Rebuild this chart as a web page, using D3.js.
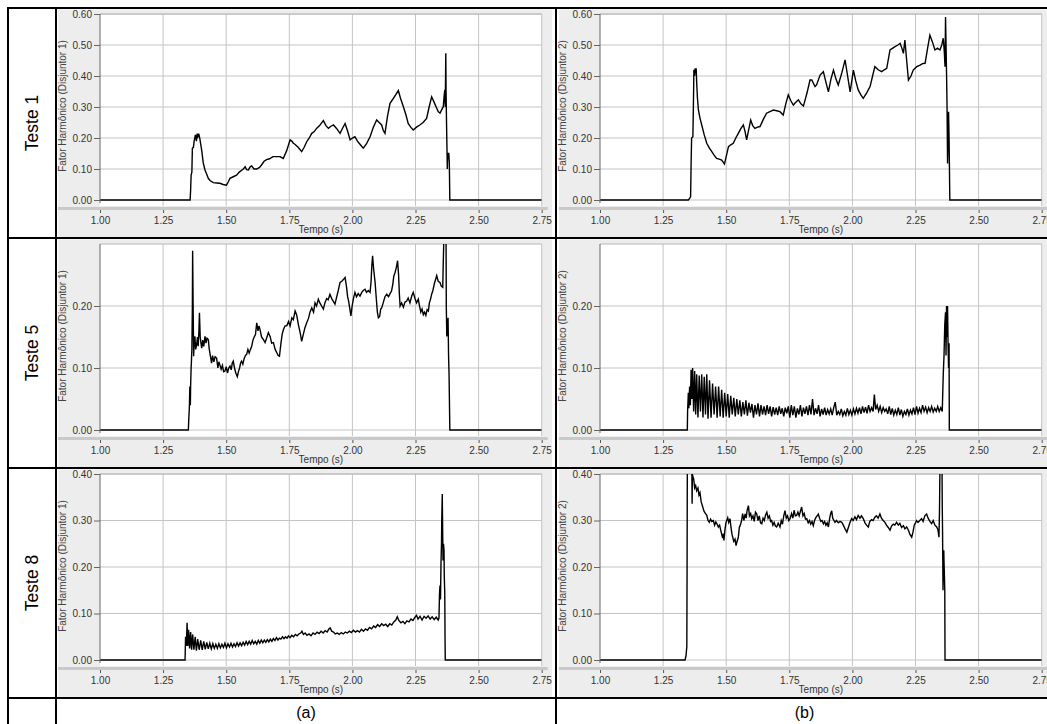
<!DOCTYPE html>
<html lang="pt">

<head>
    <meta charset="UTF-8">
    <title>Fator Harmônico</title>
    <script src="https://d3js.org/d3.v7.min.js"></script>
    <style>
        body { margin: 0; background: #fff; }
        svg { display: block; font-family: "Liberation Sans", Arial, sans-serif; }
    </style>
</head>

<body>
    <svg id="chart" width="1047" height="724"></svg>

    <script>
        // tick labels and categories
        const timeTicks = [1.00, 1.25, 1.50, 1.75, 2.00, 2.25, 2.50, 2.75];
        const rowLabels = ["Teste 1", "Teste 5", "Teste 8"];
        const colLabels = ["(a)", "(b)"];
        const yTitles = ["Fator Harmônico (Disjuntor 1)", "Fator Harmônico (Disjuntor 2)"];
        const yMaxByRow = [0.60, 0.30, 0.40];
        const yTicksRow1 = [0, 0.1, 0.2, 0.3, 0.4, 0.5, 0.6];
        const yTicksRow2 = [0, 0.1, 0.2];
        const yTicksRow3 = [0, 0.1, 0.2, 0.3, 0.4];

        // series, [tempo (s), fator harmonico]
        const teste1Disj1 = [[1.00,0],[1.357,0],[1.359,0.03],[1.361,0.08],[1.364,0.09],[1.366,0.167],[1.370,0.17],[1.373,0.19],[1.378,0.21],[1.382,0.19],[1.385,0.214],[1.388,0.205],[1.391,0.214],[1.395,0.20],[1.399,0.18],[1.403,0.16],[1.409,0.12],[1.416,0.097],[1.422,0.085],[1.429,0.07],[1.437,0.062],[1.449,0.056],[1.462,0.055],[1.475,0.054],[1.488,0.05],[1.501,0.048],[1.508,0.058],[1.515,0.07],[1.528,0.075],[1.541,0.08],[1.552,0.09],[1.560,0.095],[1.568,0.10],[1.575,0.107],[1.581,0.098],[1.588,0.097],[1.595,0.107],[1.601,0.11],[1.610,0.10],[1.621,0.10],[1.632,0.105],[1.640,0.113],[1.650,0.125],[1.660,0.13],[1.672,0.133],[1.685,0.14],[1.700,0.14],[1.713,0.14],[1.726,0.134],[1.740,0.16],[1.753,0.194],[1.760,0.19],[1.766,0.183],[1.772,0.18],[1.785,0.17],[1.799,0.156],[1.809,0.17],[1.819,0.188],[1.829,0.20],[1.839,0.215],[1.848,0.22],[1.858,0.231],[1.870,0.24],[1.885,0.256],[1.895,0.24],[1.905,0.231],[1.915,0.238],[1.925,0.242],[1.938,0.23],[1.951,0.215],[1.960,0.23],[1.971,0.247],[1.980,0.225],[1.991,0.194],[2.000,0.20],[2.010,0.204],[2.020,0.19],[2.030,0.18],[2.043,0.167],[2.055,0.18],[2.070,0.204],[2.083,0.235],[2.096,0.258],[2.106,0.25],[2.116,0.242],[2.122,0.225],[2.129,0.215],[2.139,0.27],[2.149,0.312],[2.160,0.325],[2.172,0.34],[2.182,0.353],[2.190,0.33],[2.202,0.301],[2.212,0.275],[2.221,0.247],[2.231,0.235],[2.241,0.226],[2.254,0.235],[2.267,0.242],[2.280,0.25],[2.294,0.263],[2.304,0.30],[2.314,0.333],[2.324,0.315],[2.334,0.296],[2.340,0.285],[2.347,0.28],[2.353,0.29],[2.360,0.301],[2.364,0.34],[2.366,0.355],[2.368,0.30],[2.370,0.473],[2.371,0.36],[2.373,0.247],[2.374,0.20],[2.376,0.10],[2.378,0.15],[2.382,0.15],[2.384,0.12],[2.386,0],[2.75,0]];

        const teste1Disj2 = [[1.00,0],[1.350,0],[1.355,0.005],[1.359,0.01],[1.361,0.12],[1.363,0.20],[1.368,0.204],[1.370,0.30],[1.372,0.42],[1.375,0.40],[1.377,0.425],[1.379,0.41],[1.381,0.425],[1.383,0.38],[1.386,0.33],[1.390,0.29],[1.396,0.265],[1.403,0.242],[1.413,0.21],[1.423,0.183],[1.433,0.168],[1.443,0.156],[1.452,0.145],[1.462,0.134],[1.472,0.132],[1.482,0.129],[1.488,0.122],[1.493,0.116],[1.500,0.14],[1.509,0.172],[1.518,0.178],[1.528,0.183],[1.538,0.20],[1.548,0.215],[1.558,0.23],[1.568,0.242],[1.575,0.22],[1.581,0.194],[1.590,0.23],[1.597,0.258],[1.605,0.24],[1.614,0.231],[1.624,0.235],[1.634,0.237],[1.647,0.26],[1.660,0.28],[1.673,0.285],[1.687,0.29],[1.700,0.288],[1.713,0.285],[1.726,0.274],[1.736,0.31],[1.746,0.339],[1.756,0.32],[1.766,0.306],[1.772,0.312],[1.786,0.323],[1.796,0.31],[1.806,0.303],[1.820,0.345],[1.832,0.387],[1.839,0.387],[1.852,0.366],[1.858,0.371],[1.872,0.403],[1.885,0.414],[1.895,0.38],[1.905,0.349],[1.915,0.39],[1.925,0.419],[1.935,0.39],[1.944,0.371],[1.958,0.41],[1.971,0.452],[1.981,0.40],[1.991,0.349],[2.004,0.419],[2.013,0.385],[2.023,0.355],[2.033,0.34],[2.043,0.328],[2.056,0.345],[2.070,0.366],[2.080,0.40],[2.089,0.43],[2.102,0.42],[2.116,0.414],[2.126,0.42],[2.136,0.425],[2.149,0.484],[2.160,0.49],[2.169,0.495],[2.180,0.50],[2.189,0.505],[2.196,0.49],[2.202,0.473],[2.208,0.516],[2.215,0.45],[2.222,0.387],[2.232,0.40],[2.241,0.419],[2.255,0.43],[2.268,0.435],[2.278,0.44],[2.288,0.441],[2.298,0.49],[2.307,0.532],[2.317,0.51],[2.327,0.484],[2.337,0.49],[2.347,0.484],[2.354,0.50],[2.360,0.522],[2.364,0.48],[2.367,0.43],[2.369,0.59],[2.371,0.50],[2.373,0.409],[2.375,0.30],[2.377,0.118],[2.379,0.20],[2.381,0.285],[2.383,0.20],[2.386,0],[2.75,0]];

        const teste5Disj1 = [[1.00,0],[1.350,0],[1.352,0.02],[1.354,0.035],[1.356,0.07],[1.358,0.04],[1.359,0.07],[1.361,0.10],[1.362,0.108],[1.364,0.13],[1.366,0.20],[1.367,0.289],[1.369,0.20],[1.371,0.119],[1.373,0.14],[1.376,0.151],[1.379,0.13],[1.383,0.138],[1.386,0.15],[1.389,0.135],[1.392,0.16],[1.394,0.189],[1.397,0.15],[1.400,0.14],[1.403,0.132],[1.407,0.145],[1.411,0.135],[1.416,0.151],[1.420,0.14],[1.424,0.148],[1.429,0.146],[1.433,0.13],[1.438,0.118],[1.442,0.108],[1.446,0.12],[1.451,0.11],[1.456,0.118],[1.462,0.116],[1.467,0.10],[1.471,0.11],[1.475,0.105],[1.480,0.098],[1.485,0.104],[1.490,0.094],[1.495,0.095],[1.500,0.102],[1.505,0.092],[1.510,0.10],[1.515,0.103],[1.520,0.097],[1.524,0.108],[1.528,0.111],[1.533,0.10],[1.538,0.092],[1.544,0.086],[1.549,0.095],[1.553,0.10],[1.557,0.108],[1.561,0.111],[1.566,0.106],[1.571,0.115],[1.576,0.12],[1.581,0.122],[1.586,0.13],[1.591,0.124],[1.596,0.13],[1.601,0.135],[1.606,0.145],[1.611,0.15],[1.616,0.154],[1.621,0.173],[1.626,0.16],[1.630,0.168],[1.634,0.162],[1.640,0.15],[1.647,0.146],[1.654,0.141],[1.660,0.148],[1.667,0.157],[1.674,0.151],[1.680,0.14],[1.687,0.141],[1.694,0.13],[1.700,0.125],[1.706,0.12],[1.711,0.119],[1.717,0.14],[1.722,0.155],[1.727,0.162],[1.733,0.168],[1.740,0.168],[1.747,0.175],[1.753,0.168],[1.760,0.181],[1.766,0.178],[1.773,0.192],[1.779,0.186],[1.786,0.17],[1.793,0.157],[1.799,0.143],[1.806,0.155],[1.812,0.165],[1.819,0.173],[1.826,0.18],[1.832,0.19],[1.839,0.197],[1.846,0.19],[1.852,0.205],[1.858,0.20],[1.865,0.211],[1.871,0.205],[1.878,0.2],[1.885,0.195],[1.891,0.205],[1.898,0.212],[1.904,0.21],[1.911,0.219],[1.918,0.212],[1.924,0.208],[1.931,0.203],[1.938,0.215],[1.944,0.225],[1.951,0.238],[1.958,0.24],[1.965,0.243],[1.971,0.246],[1.977,0.23],[1.981,0.215],[1.985,0.208],[1.990,0.195],[1.994,0.184],[1.999,0.2],[2.004,0.212],[2.010,0.222],[2.016,0.215],[2.023,0.22],[2.030,0.216],[2.037,0.222],[2.043,0.225],[2.050,0.227],[2.056,0.222],[2.063,0.225],[2.070,0.222],[2.074,0.24],[2.077,0.265],[2.080,0.281],[2.084,0.26],[2.090,0.238],[2.095,0.21],[2.099,0.19],[2.103,0.181],[2.108,0.183],[2.112,0.195],[2.116,0.197],[2.122,0.205],[2.129,0.215],[2.136,0.219],[2.143,0.215],[2.149,0.22],[2.155,0.224],[2.160,0.235],[2.164,0.248],[2.169,0.254],[2.174,0.262],[2.179,0.273],[2.183,0.25],[2.186,0.22],[2.189,0.20],[2.195,0.205],[2.202,0.198],[2.208,0.206],[2.215,0.208],[2.221,0.213],[2.228,0.205],[2.235,0.216],[2.241,0.222],[2.248,0.212],[2.254,0.205],[2.261,0.211],[2.266,0.2],[2.271,0.19],[2.276,0.195],[2.281,0.186],[2.286,0.19],[2.291,0.185],[2.296,0.194],[2.301,0.192],[2.305,0.205],[2.309,0.21],[2.314,0.219],[2.319,0.225],[2.324,0.235],[2.329,0.242],[2.334,0.249],[2.340,0.24],[2.347,0.238],[2.352,0.232],[2.358,0.23],[2.360,0.27],[2.363,0.32],[2.366,0.32],[2.369,0.3],[2.371,0.32],[2.372,0.2],[2.374,0.151],[2.376,0.17],[2.379,0.181],[2.381,0.12],[2.383,0.089],[2.386,0],[2.75,0]];

        const teste5Disj2 = [[1.00,0],[1.346,0],[1.347,0.03],[1.350,0.06],[1.352,0.035],[1.355,0.07],[1.358,0.04],[1.361,0.097],[1.364,0.05],[1.367,0.10],[1.371,0.03],[1.375,0.095],[1.379,0.025],[1.383,0.09],[1.388,0.02],[1.393,0.088],[1.398,0.03],[1.403,0.09],[1.408,0.02],[1.413,0.086],[1.418,0.025],[1.423,0.09],[1.428,0.018],[1.434,0.08],[1.440,0.02],[1.446,0.075],[1.452,0.025],[1.458,0.07],[1.464,0.02],[1.470,0.07],[1.476,0.022],[1.482,0.065],[1.488,0.02],[1.494,0.06],[1.500,0.022],[1.506,0.058],[1.512,0.02],[1.518,0.055],[1.524,0.025],[1.530,0.052],[1.536,0.022],[1.542,0.05],[1.548,0.025],[1.554,0.048],[1.560,0.022],[1.566,0.045],[1.572,0.025],[1.578,0.048],[1.584,0.023],[1.590,0.044],[1.596,0.028],[1.602,0.042],[1.608,0.02],[1.614,0.04],[1.620,0.025],[1.626,0.043],[1.632,0.022],[1.638,0.04],[1.644,0.025],[1.650,0.038],[1.656,0.024],[1.662,0.04],[1.668,0.026],[1.674,0.038],[1.680,0.022],[1.686,0.037],[1.692,0.025],[1.698,0.036],[1.704,0.024],[1.710,0.038],[1.716,0.026],[1.722,0.035],[1.728,0.022],[1.734,0.036],[1.740,0.027],[1.746,0.038],[1.752,0.02],[1.758,0.04],[1.764,0.024],[1.770,0.038],[1.776,0.02],[1.782,0.035],[1.788,0.025],[1.794,0.04],[1.800,0.022],[1.806,0.036],[1.812,0.026],[1.818,0.038],[1.824,0.024],[1.830,0.04],[1.836,0.025],[1.842,0.05],[1.848,0.024],[1.854,0.035],[1.860,0.026],[1.866,0.04],[1.872,0.022],[1.878,0.034],[1.884,0.025],[1.890,0.036],[1.896,0.024],[1.902,0.033],[1.908,0.026],[1.914,0.034],[1.920,0.024],[1.926,0.036],[1.932,0.045],[1.938,0.024],[1.944,0.03],[1.950,0.025],[1.956,0.034],[1.962,0.023],[1.968,0.03],[1.974,0.024],[1.980,0.035],[1.986,0.025],[1.992,0.032],[1.998,0.024],[2.004,0.034],[2.010,0.026],[2.016,0.035],[2.022,0.027],[2.028,0.036],[2.034,0.026],[2.040,0.038],[2.046,0.028],[2.052,0.037],[2.058,0.027],[2.064,0.04],[2.070,0.03],[2.076,0.036],[2.082,0.03],[2.087,0.057],[2.092,0.033],[2.098,0.04],[2.104,0.03],[2.110,0.038],[2.116,0.028],[2.122,0.036],[2.128,0.03],[2.134,0.034],[2.140,0.026],[2.146,0.038],[2.152,0.025],[2.158,0.035],[2.164,0.024],[2.170,0.032],[2.176,0.025],[2.182,0.036],[2.188,0.024],[2.194,0.033],[2.200,0.022],[2.206,0.03],[2.212,0.025],[2.218,0.034],[2.224,0.024],[2.230,0.032],[2.236,0.026],[2.242,0.036],[2.248,0.025],[2.254,0.038],[2.260,0.027],[2.266,0.035],[2.272,0.028],[2.278,0.04],[2.284,0.03],[2.290,0.037],[2.296,0.028],[2.302,0.036],[2.308,0.03],[2.314,0.038],[2.320,0.029],[2.326,0.035],[2.332,0.03],[2.338,0.038],[2.344,0.03],[2.350,0.036],[2.356,0.03],[2.358,0.06],[2.360,0.09],[2.363,0.12],[2.366,0.17],[2.369,0.19],[2.371,0.12],[2.373,0.20],[2.375,0.15],[2.377,0.20],[2.379,0.14],[2.381,0.10],[2.383,0.14],[2.384,0],[2.75,0]];

        const teste8Disj1 = [[1.00,0],[1.337,0],[1.339,0.05],[1.342,0.03],[1.345,0.08],[1.348,0.03],[1.351,0.065],[1.355,0.025],[1.359,0.06],[1.363,0.022],[1.367,0.055],[1.372,0.022],[1.377,0.05],[1.382,0.02],[1.387,0.045],[1.393,0.022],[1.399,0.042],[1.405,0.022],[1.411,0.04],[1.417,0.023],[1.423,0.038],[1.429,0.024],[1.435,0.036],[1.441,0.024],[1.447,0.035],[1.453,0.025],[1.459,0.034],[1.465,0.025],[1.471,0.035],[1.477,0.026],[1.483,0.034],[1.489,0.027],[1.495,0.036],[1.501,0.026],[1.507,0.035],[1.513,0.028],[1.519,0.036],[1.525,0.028],[1.531,0.035],[1.537,0.029],[1.543,0.037],[1.549,0.03],[1.555,0.037],[1.561,0.031],[1.567,0.038],[1.573,0.032],[1.579,0.04],[1.585,0.033],[1.591,0.04],[1.597,0.034],[1.603,0.042],[1.609,0.035],[1.615,0.04],[1.621,0.034],[1.627,0.042],[1.633,0.036],[1.639,0.043],[1.645,0.037],[1.651,0.043],[1.657,0.038],[1.663,0.044],[1.669,0.039],[1.675,0.045],[1.681,0.04],[1.687,0.046],[1.693,0.042],[1.699,0.048],[1.705,0.043],[1.711,0.047],[1.717,0.045],[1.723,0.05],[1.729,0.046],[1.735,0.05],[1.741,0.047],[1.747,0.052],[1.753,0.048],[1.760,0.053],[1.767,0.05],[1.774,0.055],[1.781,0.052],[1.788,0.056],[1.795,0.058],[1.800,0.062],[1.806,0.055],[1.813,0.058],[1.820,0.053],[1.828,0.056],[1.836,0.052],[1.844,0.058],[1.852,0.055],[1.860,0.06],[1.868,0.057],[1.876,0.062],[1.884,0.058],[1.892,0.063],[1.900,0.06],[1.906,0.066],[1.912,0.069],[1.918,0.062],[1.925,0.06],[1.932,0.056],[1.940,0.058],[1.948,0.055],[1.956,0.059],[1.964,0.056],[1.972,0.06],[1.980,0.058],[1.988,0.062],[1.996,0.059],[2.004,0.064],[2.012,0.06],[2.020,0.063],[2.028,0.06],[2.036,0.066],[2.044,0.062],[2.052,0.067],[2.060,0.064],[2.068,0.07],[2.076,0.067],[2.084,0.073],[2.092,0.07],[2.100,0.076],[2.108,0.072],[2.116,0.078],[2.124,0.074],[2.132,0.077],[2.140,0.072],[2.148,0.078],[2.156,0.075],[2.164,0.082],[2.172,0.086],[2.178,0.093],[2.184,0.085],[2.192,0.08],[2.200,0.083],[2.208,0.078],[2.216,0.084],[2.224,0.082],[2.232,0.088],[2.240,0.085],[2.248,0.092],[2.254,0.096],[2.260,0.088],[2.268,0.094],[2.276,0.086],[2.284,0.094],[2.292,0.09],[2.300,0.095],[2.308,0.088],[2.316,0.093],[2.324,0.087],[2.332,0.092],[2.340,0.086],[2.343,0.09],[2.345,0.14],[2.347,0.16],[2.349,0.13],[2.351,0.207],[2.353,0.25],[2.354,0.30],[2.356,0.357],[2.358,0.26],[2.359,0.214],[2.361,0.25],[2.363,0.236],[2.364,0.18],[2.366,0.143],[2.367,0.05],[2.368,0],[2.75,0]];

        const teste8Disj2 = [[1.00,0],[1.337,0],[1.341,0.01],[1.344,0.029],[1.345,0.2],[1.346,0.42],[1.360,0.42],[1.364,0.40],[1.365,0.336],[1.366,0.40],[1.367,0.396],[1.371,0.39],[1.375,0.37],[1.379,0.375],[1.383,0.364],[1.388,0.37],[1.392,0.355],[1.396,0.36],[1.401,0.34],[1.407,0.329],[1.412,0.32],[1.418,0.315],[1.423,0.311],[1.428,0.30],[1.433,0.296],[1.438,0.303],[1.443,0.298],[1.449,0.30],[1.454,0.29],[1.459,0.297],[1.464,0.292],[1.469,0.286],[1.474,0.29],[1.478,0.28],[1.482,0.271],[1.486,0.262],[1.489,0.272],[1.491,0.257],[1.495,0.28],[1.499,0.295],[1.502,0.30],[1.506,0.306],[1.510,0.296],[1.515,0.304],[1.519,0.285],[1.523,0.27],[1.526,0.264],[1.530,0.255],[1.535,0.26],[1.539,0.246],[1.543,0.255],[1.548,0.264],[1.552,0.285],[1.556,0.29],[1.561,0.30],[1.565,0.315],[1.570,0.30],[1.575,0.314],[1.579,0.305],[1.583,0.322],[1.588,0.332],[1.592,0.31],[1.597,0.315],[1.601,0.304],[1.606,0.31],[1.611,0.298],[1.616,0.318],[1.621,0.314],[1.626,0.30],[1.631,0.31],[1.636,0.295],[1.641,0.293],[1.646,0.305],[1.651,0.30],[1.656,0.312],[1.661,0.318],[1.666,0.305],[1.671,0.31],[1.676,0.298],[1.680,0.30],[1.685,0.29],[1.690,0.296],[1.695,0.288],[1.700,0.286],[1.706,0.294],[1.713,0.286],[1.718,0.30],[1.723,0.292],[1.728,0.31],[1.733,0.321],[1.738,0.305],[1.743,0.31],[1.748,0.30],[1.753,0.304],[1.759,0.315],[1.764,0.305],[1.769,0.322],[1.774,0.31],[1.779,0.311],[1.784,0.318],[1.789,0.31],[1.794,0.32],[1.799,0.329],[1.804,0.31],[1.809,0.315],[1.814,0.303],[1.819,0.304],[1.825,0.295],[1.830,0.30],[1.835,0.292],[1.840,0.298],[1.845,0.289],[1.850,0.30],[1.855,0.306],[1.860,0.31],[1.865,0.314],[1.870,0.305],[1.875,0.298],[1.880,0.30],[1.885,0.293],[1.890,0.298],[1.895,0.29],[1.900,0.295],[1.905,0.286],[1.910,0.305],[1.914,0.315],[1.918,0.321],[1.922,0.305],[1.927,0.30],[1.931,0.296],[1.937,0.30],[1.944,0.295],[1.951,0.298],[1.958,0.296],[1.964,0.29],[1.971,0.282],[1.978,0.275],[1.984,0.285],[1.990,0.295],[1.997,0.304],[2.003,0.30],[2.010,0.308],[2.016,0.302],[2.023,0.311],[2.030,0.305],[2.036,0.31],[2.043,0.304],[2.050,0.295],[2.056,0.29],[2.063,0.286],[2.069,0.298],[2.076,0.302],[2.082,0.30],[2.089,0.307],[2.095,0.31],[2.102,0.305],[2.109,0.314],[2.115,0.305],[2.122,0.30],[2.129,0.296],[2.135,0.29],[2.142,0.285],[2.149,0.279],[2.155,0.288],[2.162,0.292],[2.168,0.29],[2.175,0.296],[2.182,0.29],[2.188,0.294],[2.195,0.285],[2.202,0.289],[2.208,0.282],[2.215,0.286],[2.222,0.279],[2.228,0.27],[2.235,0.264],[2.240,0.275],[2.245,0.29],[2.250,0.295],[2.254,0.30],[2.260,0.296],[2.267,0.30],[2.274,0.304],[2.280,0.298],[2.287,0.31],[2.294,0.314],[2.300,0.305],[2.307,0.298],[2.314,0.293],[2.320,0.30],[2.327,0.29],[2.334,0.286],[2.339,0.28],[2.343,0.264],[2.345,0.32],[2.347,0.42],[2.355,0.42],[2.356,0.33],[2.357,0.286],[2.358,0.22],[2.359,0.15],[2.360,0.20],[2.362,0.236],[2.363,0.21],[2.364,0.193],[2.366,0.15],[2.367,0],[2.75,0]];

        function program() {
            const svg = d3.select("#chart");

            // table geometry
            const colX = [8, 56, 556, 1053];
            const rowY = [8, 238, 468, 698, 730];
            const plotW = 441.7;
            const plotLeft = [100, 600];
            const panelBox = [[58, 552], [559, 1053]];

            const panels = [
                { row: 0, col: 0, data: teste1Disj1, ticks: yTicksRow1 },
                { row: 0, col: 1, data: teste1Disj2, ticks: yTicksRow1 },
                { row: 1, col: 0, data: teste5Disj1, ticks: yTicksRow2 },
                { row: 1, col: 1, data: teste5Disj2, ticks: yTicksRow2 },
                { row: 2, col: 0, data: teste8Disj1, ticks: yTicksRow3 },
                { row: 2, col: 1, data: teste8Disj2, ticks: yTicksRow3 }
            ];

            panels.forEach(function (p, i) {
                const top = rowY[p.row] + 6;
                const zero = rowY[p.row] + 192;
                const left = plotLeft[p.col];
                const x = d3.scaleLinear().domain([1, 2.75]).range([left, left + plotW]);
                const y = d3.scaleLinear().domain([0, yMaxByRow[p.row]]).range([zero, top]);
                const g = svg.append("g");

                // gray chart background
                g.append("rect")
                    .attr("x", panelBox[p.col][0]).attr("y", rowY[p.row] + 1.5)
                    .attr("width", panelBox[p.col][1] - panelBox[p.col][0])
                    .attr("height", 228)
                    .attr("fill", "#ededed");

                // white plot area
                g.append("rect")
                    .attr("x", left).attr("y", top)
                    .attr("width", plotW).attr("height", zero + 6 - top)
                    .attr("fill", "#fff");

                // grid
                g.selectAll(".vgrid").data(timeTicks.slice(1))
                    .join("line")
                    .attr("x1", d => x(d)).attr("x2", d => x(d))
                    .attr("y1", top).attr("y2", zero + 6)
                    .attr("stroke", "#c4c4c4").attr("stroke-width", 1);
                g.selectAll(".hgrid").data(p.ticks)
                    .join("line")
                    .attr("x1", left).attr("x2", left + plotW)
                    .attr("y1", d => y(d)).attr("y2", d => y(d))
                    .attr("stroke", "#c4c4c4").attr("stroke-width", 1);
                g.append("line")
                    .attr("x1", left).attr("x2", left + plotW)
                    .attr("y1", top).attr("y2", top)
                    .attr("stroke", "#b8b8b8");

                // bottom axis band
                g.append("rect")
                    .attr("x", panelBox[p.col][0]).attr("y", zero + 7)
                    .attr("width", left + plotW + 6 - panelBox[p.col][0]).attr("height", 3)
                    .attr("fill", "#c9c9c9");

                // series
                const clipId = "clip" + i;
                g.append("clipPath").attr("id", clipId)
                    .append("rect")
                    .attr("x", left).attr("y", top)
                    .attr("width", plotW).attr("height", zero + 6 - top);
                g.append("path")
                    .datum(p.data)
                    .attr("clip-path", "url(#" + clipId + ")")
                    .attr("fill", "none")
                    .attr("stroke", "#000")
                    .attr("stroke-width", 1.4)
                    .attr("stroke-linejoin", "miter")
                    .attr("d", d3.line().x(d => x(d[0])).y(d => y(d[1])));

                // left axis line
                g.append("line")
                    .attr("x1", left).attr("x2", left)
                    .attr("y1", top).attr("y2", zero + 3)
                    .attr("stroke", "#666").attr("stroke-width", 1);

                // y axis
                const yAxis = g.append("g")
                    .attr("transform", "translate(" + left + ",0)")
                    .call(d3.axisLeft(y).tickValues(p.ticks).tickFormat(d3.format(".2f"))
                        .tickSize(6).tickPadding(2));
                yAxis.select(".domain").remove();
                yAxis.selectAll("line").attr("stroke", "#666");
                yAxis.selectAll("text").attr("fill", "#333")
                    .style("font-size", "10px").style("font-family", "'Liberation Sans', Arial, sans-serif");

                // x axis
                const xAxis = g.append("g")
                    .attr("transform", "translate(0," + (zero + 10) + ")")
                    .call(d3.axisBottom(x).tickValues(timeTicks).tickFormat(d3.format(".2f"))
                        .tickSize(3).tickPadding(4));
                xAxis.select(".domain").remove();
                xAxis.selectAll("line").attr("stroke", "#555");
                xAxis.selectAll("text").attr("fill", "#333")
                    .style("font-size", "10px").style("font-family", "'Liberation Sans', Arial, sans-serif");

                g.append("text")
                    .attr("x", left + plotW / 2).attr("y", zero + 33)
                    .attr("text-anchor", "middle")
                    .attr("fill", "#333").style("font-size", "10px")
                    .text("Tempo (s)");

                g.append("text")
                    .attr("transform", "translate(" + (left - 34) + "," + (rowY[p.row] + 98) + ") rotate(-90)")
                    .attr("text-anchor", "middle")
                    .attr("fill", "#444").style("font-size", "10px")
                    .text(yTitles[p.col]);
            });

            // table lines
            const table = svg.append("g").attr("stroke", "#000").attr("stroke-width", 2);
            colX.forEach(function (cx) {
                table.append("line")
                    .attr("x1", cx).attr("x2", cx)
                    .attr("y1", rowY[0]).attr("y2", rowY[4]);
            });
            rowY.slice(0, 4).forEach(function (ry) {
                table.append("line")
                    .attr("x1", colX[0] - 1).attr("x2", colX[3])
                    .attr("y1", ry).attr("y2", ry);
            });

            // row labels
            svg.selectAll(".rowlabel").data(rowLabels)
                .join("text")
                .attr("transform", (d, i) => "translate(38," + (rowY[i] + 115) + ") rotate(-90)")
                .attr("text-anchor", "middle")
                .style("font-size", "17.5px")
                .attr("fill", "#000")
                .text(d => d);

            // column captions
            svg.selectAll(".collabel").data(colLabels)
                .join("text")
                .attr("x", (d, i) => (colX[i + 1] + colX[i + 2]) / 2)
                .attr("y", 718)
                .attr("text-anchor", "middle")
                .style("font-size", "16px")
                .attr("fill", "#000")
                .text(d => d);
        }

        program();
    </script>
</body>

</html>
